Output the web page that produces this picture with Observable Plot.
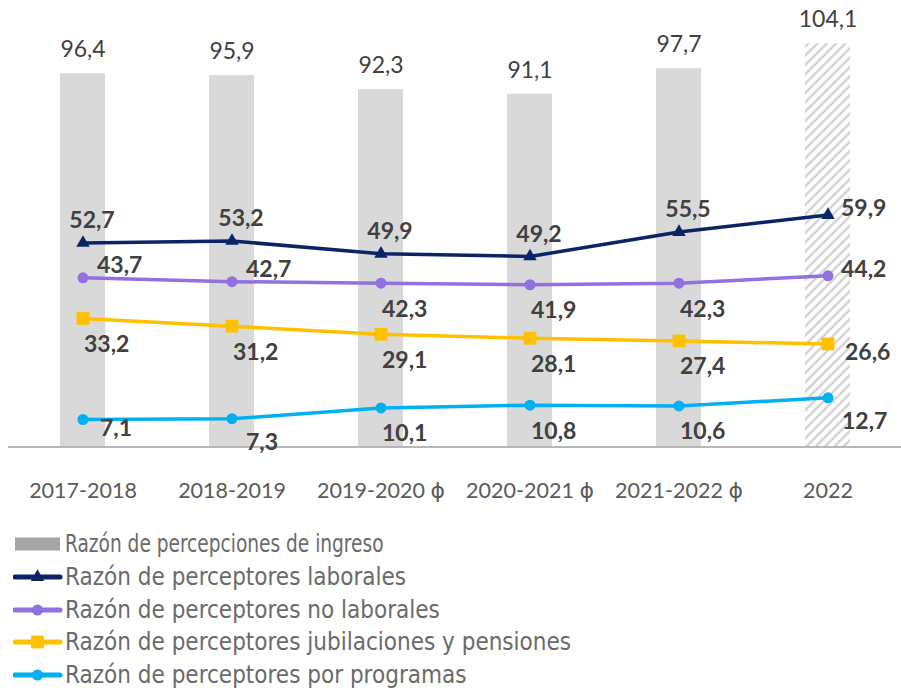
<!DOCTYPE html>
<html><head><meta charset="utf-8">
<script src="https://cdn.jsdelivr.net/npm/d3@7"></script>
<script src="https://cdn.jsdelivr.net/npm/@observablehq/plot@0.6"></script>
<style>
body{margin:0;background:#fff;}
#legend{margin-top:18px;margin-left:13px;font-family:"Liberation Sans Narrow","DejaVu Sans Condensed",Lato,sans-serif;font-size:24px;color:#6a6a6a;}
.row{display:flex;align-items:center;height:32.7px;white-space:nowrap;}
.row svg{flex:none;margin-right:2px;}
.row span{display:inline-block;transform-origin:0 50%;}
.row span.tight{transform:scaleX(0.86);}
</style></head><body><div id="chart"></div><div id="legend"></div>
<script>
const periods = ["2017-2018","2018-2019","2019-2020","2020-2021","2021-2022","2022"];
const periodLabels = ["2017-2018","2018-2019","2019-2020 ɸ","2020-2021 ɸ","2021-2022 ɸ","2022"];
const ingreso = [96.4,95.9,92.3,91.1,97.7,104.1];
const laborales = [52.7,53.2,49.9,49.2,55.5,59.9];
const noLaborales = [43.7,42.7,42.3,41.9,42.3,44.2];
const jubilaciones = [33.2,31.2,29.1,28.1,27.4,26.6];
const programas = [7.1,7.3,10.1,10.8,10.6,12.7];
const hatchedPeriod = "2022";

const barName = "Razón de percepciones de ingreso";
const lineNames = ["Razón de perceptores laborales","Razón de perceptores no laborales","Razón de perceptores jubilaciones y pensiones","Razón de perceptores por programas"];
const lineColors = ["#0b2466","#9170e0","#ffc000","#00b0f0"];
const lineSymbols = ["triangle","circle","square","circle"];
// label placement codes relative to each point
const placeLaborales = ["N","N","N","N","N","E"];
const placeNoLaborales = ["NE","NE","S","S","S","E"];
const placeJubilaciones = ["S","S","S","S","S","ESE"];
const placeProgramas = ["ESE","SE","S","S","S","SE"];

const lineValues = [laborales,noLaborales,jubilaciones,programas];
const linePlaces = [placeLaborales,placeNoLaborales,placeJubilaciones,placeProgramas];
const fmt = v => v.toFixed(1).replace(".", ",");

const bars = periods.map((p,i)=>({period:p, value:ingreso[i]}));
const series = lineValues.map((vals,s)=>vals.map((v,i)=>({period:periods[i], value:v, place:linePlaces[s][i], s})));
const allPts = series.flat();

const placements = {
  N:{textAnchor:"middle",dx:9,dy:-22},
  NE:{textAnchor:"start",dx:14,dy:-12},
  E:{textAnchor:"start",dx:13,dy:-6},
  ESE:{textAnchor:"start",dx:17,dy:9},
  S:{textAnchor:"start",dx:1,dy:26},
  SE:{textAnchor:"start",dx:14,dy:24}
};
const symSize = {triangle:5, circle:5.5, square:7.2};
const FONT = "Lato, 'Open Sans', sans-serif";

const marks = [
  Plot.barY(bars.filter(d=>d.period!==hatchedPeriod), {x:"period", y:"value", fill:"#d9d9d9"}),
  Plot.barY(bars.filter(d=>d.period===hatchedPeriod), {x:"period", y:"value", fill:"#fefefe"}),
  Plot.ruleY([0], {stroke:"#a0a0a0", strokeWidth:1.5}),
  Plot.text(bars, {x:"period", y:"value", text:d=>fmt(d.value), dy:-24, fontSize:23, fill:"#404040", fontFamily:FONT}),
  Plot.text(periods, {x:d=>d, y:()=>0, text:(d,i)=>periodLabels[i], dy:44, fontSize:21.5, fill:"#5a5a5a", fontFamily:FONT})
];
series.forEach((pts,s)=>{
  marks.push(Plot.line(pts, {x:"period", y:"value", stroke:lineColors[s], strokeWidth:3.5}));
  marks.push(Plot.dot(pts, {x:"period", y:"value", symbol:lineSymbols[s], r:symSize[lineSymbols[s]], fill:lineColors[s], stroke:"none"}));
});
Object.entries(placements).forEach(([k,o])=>{
  marks.push(Plot.text(allPts.filter(d=>d.place===k), {x:"period", y:"value", text:d=>fmt(d.value), textAnchor:o.textAnchor, dx:o.dx, dy:o.dy, fontSize:23, fontWeight:"bold", fill:"#404040", fontFamily:FONT}));
});

const chart = Plot.plot({
  width:901, height:510,
  marginTop:0, marginBottom:63.5, marginLeft:8, marginRight:0,
  x:{domain:periods, paddingInner:0.699, paddingOuter:0.334, axis:null},
  y:{domain:[0,115.3], axis:null},
  style:{fontFamily:FONT, background:"white", overflow:"visible"},
  marks
});
const defs = d3.select(chart).insert("defs", ":first-child");
const pat = defs.append("pattern").attr("id","hatch").attr("patternUnits","userSpaceOnUse")
  .attr("width",6.6).attr("height",6.6).attr("patternTransform","rotate(45)");
pat.append("rect").attr("width",6.6).attr("height",6.6).attr("fill","white");
pat.append("line").attr("x1",1.5).attr("y1",0).attr("x2",1.5).attr("y2",6.6).attr("stroke","#cfcfcf").attr("stroke-width",2.2);
d3.select(chart).selectAll('[fill="#fefefe"]').attr("fill","url(#hatch)");
// render the phi marker in a font whose glyph has a full stem
d3.select(chart).selectAll("text").each(function(){
  const t = this.textContent;
  if (t.includes("ɸ")) {
    const [a] = t.split(" ɸ");
    this.textContent = "";
    d3.select(this).append("tspan").text(a + " ");
    d3.select(this).append("tspan").attr("font-family","DejaVu Sans").attr("font-size",22).text("ɸ");
  }
});
document.getElementById("chart").appendChild(chart);

// legend
const leg = d3.select("#legend");
const r0 = leg.append("div").attr("class","row");
const s0 = r0.append("svg").attr("width",50).attr("height",20);
s0.append("rect").attr("x",2).attr("y",3.5).attr("width",45).attr("height",13).attr("fill","#a6a6a6");
r0.append("span").attr("class","tight").text(barName);
lineNames.forEach((n,i)=>{
  const r = leg.append("div").attr("class","row");
  const s = r.append("svg").attr("width",50).attr("height",20);
  s.append("line").attr("x1",2).attr("x2",47).attr("y1",10).attr("y2",10).attr("stroke",lineColors[i]).attr("stroke-width",5).attr("stroke-linecap","round");
  const sym = {triangle:d3.symbolTriangle, circle:d3.symbolCircle, square:d3.symbolSquare}[lineSymbols[i]];
  const rr = symSize[lineSymbols[i]];
  s.append("path").attr("transform","translate(24.5,10)").attr("d", d3.symbol(sym, Math.PI*rr*rr)()).attr("fill",lineColors[i]);
  r.append("span").text(n);
});
</script></body></html>
